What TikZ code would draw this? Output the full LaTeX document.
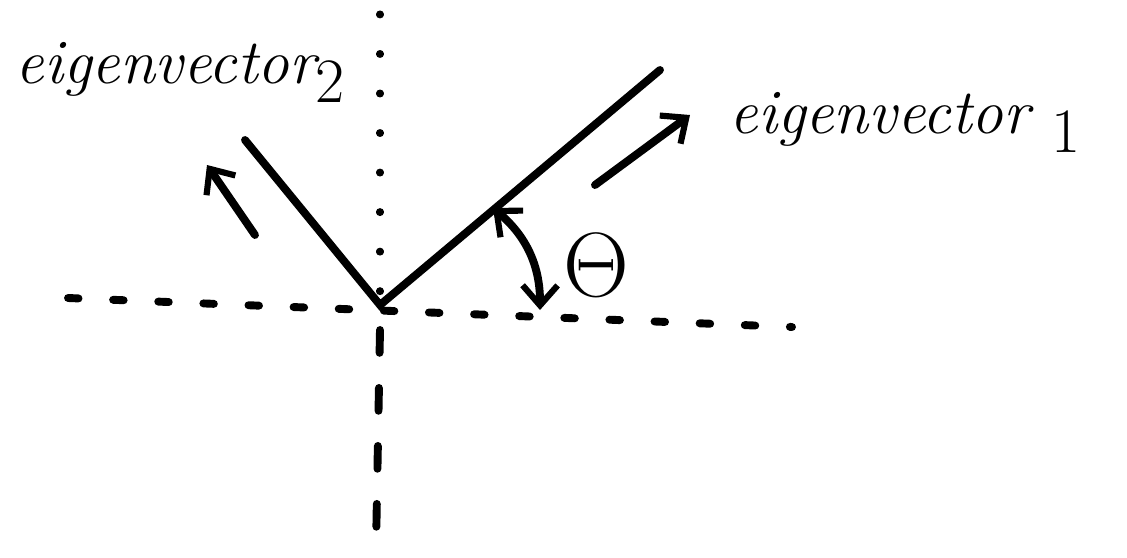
\RequirePackage{fix-cm}
\documentclass[tikz,border=0pt]{standalone}
\usetikzlibrary{arrows.meta}
\begin{document}
\begin{tikzpicture}[
    x=0.02cm, y=-0.02cm,
    >={Straight Barb[length=4mm, width=7mm, line width=3.5pt]},
    pen/.style={line width=4.5pt, line cap=round},
    dotline/.style={line width=4pt, line cap=round, dash pattern=on 0.5pt off 22pt},
    dashline/.style={line width=4.5pt, line cap=round, dash pattern=on 6pt off 19.7pt},
    longdash/.style={line width=4.5pt, line cap=round, dash pattern=on 13pt off 20pt},
    label/.style={font=\fontsize{36}{42}\selectfont\itshape, inner sep=0pt}
]
\useasboundingbox (0,0) rectangle (1127,558);

% -------- frame of the axes --------
\coordinate (O) at (380,305);
\coordinate (xl) at (68,298);
\coordinate (xr) at (792,327);
\coordinate (yt) at (380,14);
\coordinate (yb) at (376,548);

\draw[dashline] (xl) -- (xr);
\draw[dotline] (yt) -- ([yshift=-0.3cm]O);
\draw[longdash] ([yshift=-0.5cm]O) -- (yb);

% -------- eigenvectors --------
\coordinate (e1) at (660,70);
\coordinate (e2) at (245,140);
\draw[pen] (e2) -- (O) -- (e1);

% direction arrows
\coordinate (a1s) at (595,185);
\coordinate (a1e) at (690,115);
\coordinate (a2s) at (255,235);
\coordinate (a2e) at (207,165);
\draw[pen, ->] (a1s) -- (a1e);
\draw[pen, ->] (a2s) -- (a2e);

% angle between eigenvector 1 and the x axis
\coordinate (t1) at (493,208);
\coordinate (t2) at (540,310);
\draw[pen, <->] (t1) to[bend left=25] (t2);

% -------- labels --------
\node[label] (lab2) at (180,72) {eigenvector\raisebox{-0.3em}{\upshape 2}};
\node[label] (lab1) at (905,122) {eigenvector\ \raisebox{-0.3em}{\upshape 1}};
\node[font=\fontsize{52}{58}\selectfont, inner sep=0pt] (theta) at (596,265) {$\Theta$};
\end{tikzpicture}
\end{document}
